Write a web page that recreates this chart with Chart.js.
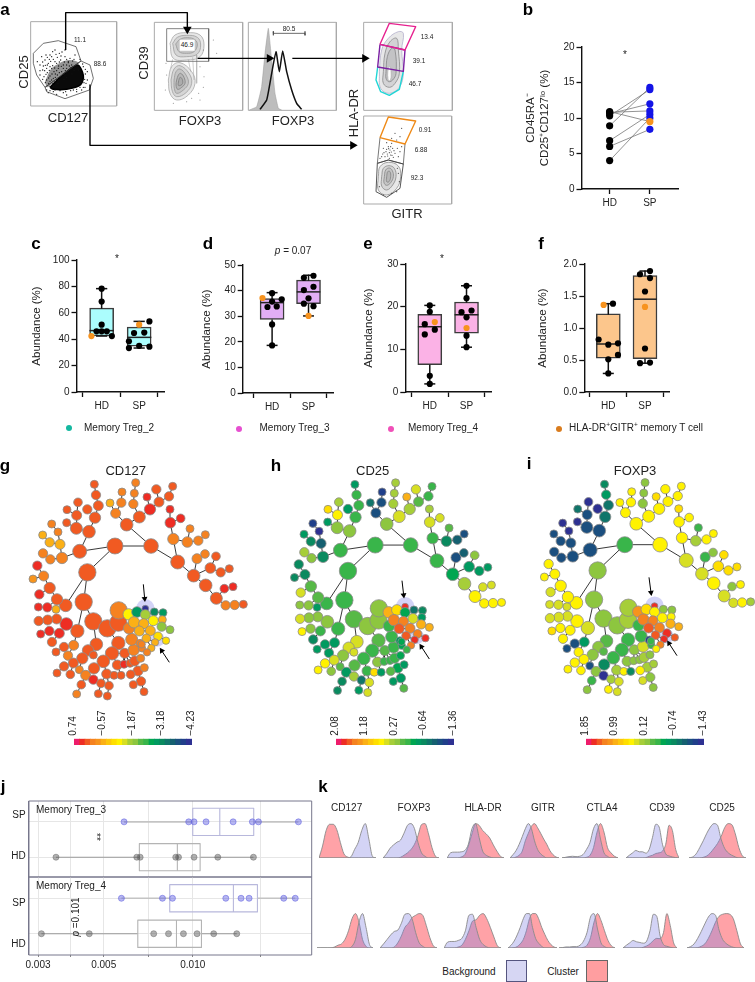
<!DOCTYPE html>
<html><head><meta charset="utf-8">
<script src="https://cdn.jsdelivr.net/npm/chart.js@4"></script>
<style>
html,body{margin:0;padding:0;background:#fff;overflow:hidden}
#root{position:relative;width:755px;height:982px;overflow:hidden;font-family:"Liberation Sans",Arial,sans-serif;color:#222}
canvas{position:absolute}
.t{position:absolute;white-space:nowrap;line-height:1;transform:translate(-50%,-50%);z-index:5}
sup{font-size:65%;line-height:0}
.sw{position:absolute;box-sizing:border-box;border:1px solid #55557f}
.dot{position:absolute;width:6px;height:6px;border-radius:50%;transform:translate(-50%,-50%)}
</style></head><body><div id="root"></div>
<script>
/* ---------- panel a : gating plots, read on a grid of 3 units per page pixel ---------- */
const flowFrames=[[92,65,350,318],[463,67,728,331],[745,67,1009,331],[1091,67,1357,331],[1091,348,1355,612]];
const gateCD25=[[100,160],[130,130],[175,122],[228,140],[243,183],[135,262],[110,225],[100,190]];
const gateCD127=[[243,183],[270,195],[280,235],[268,270],[195,296],[140,275],[135,262]];
const denseBlob=[[150,262],[180,232],[232,195],[250,226],[242,254],[200,268],[160,268]];
const midBlob=[[135,245],[155,205],[195,182],[225,182],[236,190],[175,232],[142,262]];
const cd25Dots=[[165,150],[150,165],[178,160],[195,170],[135,180],[160,178],[182,180],[205,185],[120,195],[145,190],[170,190],[190,195],[215,195],[128,210],[155,205],[175,205],[200,205],[142,218],[162,215],[185,215],[132,230],[150,228],[172,225],[120,225],[140,240],[160,235],[180,232],[146,250],[165,245],[150,200],[183,168],[138,165],[210,175],[225,165],[195,150],[125,170],[112,185],[158,155],[172,172],[130,198],[190,205],[200,195],[176,198],[166,222],[155,240],[140,205],[120,212],[148,178],[206,212],[195,225],[145,278],[170,283],[200,285],[230,275],[255,262],[262,240],[262,215],[250,200],[140,270],[160,275],[190,278],[220,270],[245,270],[258,250],
[168,163],[186,156],[142,172],[155,170],[200,178],[218,183],[128,186],[152,184],[165,185],[178,186],[193,186],[208,198],[136,196],[158,197],[184,199],[196,212],[148,211],[170,212],[178,218],[190,221],[138,223],[156,222],[128,238],[146,234],[166,232],[176,240],[150,244],[136,248],[158,252],[170,238],[205,188],[222,178],[212,204],[200,218],[186,228],[164,204],[142,195],[134,212],[150,260],[240,178],[248,192],[256,208],[254,238],[250,262],[230,268],[212,272],[180,272],[150,272],[165,270],[197,275],[240,262],[256,222],[252,248],[236,210],[228,196],[192,238],[174,250],[160,258],[200,232],[216,222],[222,212]];
const cd39Gate=[[500,86],[626,86],[626,184],[500,184]];
const cd39Contours=[
 [[510,130],[525,105],[560,98],[600,105],[612,135],[600,170],[560,180],[520,175]],
 [[518,130],[532,112],[560,106],[592,112],[602,135],[592,162],[560,170],[528,165]],
 [[527,132],[540,118],[562,113],[585,119],[592,135],[582,155],[560,160],[537,155]],
 [[505,240],[515,200],[540,188],[575,215],[585,250],[565,285],[530,300],[510,280]],
 [[513,240],[522,207],[540,197],[567,220],[575,250],[558,278],[530,290],[517,274]],
 [[522,240],[528,215],[540,207],[558,225],[565,250],[550,270],[530,280],[523,265]],
 [[530,240],[535,225],[542,220],[552,232],[555,250],[545,262],[533,268],[528,255]],
 [[536,242],[540,232],[546,236],[548,250],[542,256],[535,256]]];
const cd39Links=[[[565,178],[572,215]],[[578,172],[582,240]],[[518,178],[512,205]],[[590,165],[590,250]]];
const cd39Dots=[[610,150],[618,175],[600,200],[612,230],[596,280],[600,300],[575,295],[498,190],[500,225],[496,270],[520,310],[560,305],[640,120],[650,160],[610,262]];
const isotypeCurve=[[748,330],[770,320],[785,260],[795,160],[805,85],[815,180],[825,280],[835,325],[845,330]];
const foxp3Curve=[[780,328],[800,300],[815,220],[828,155],[838,215],[848,153],[860,215],[875,270],[890,310],[905,328]];
const bracket805=[[820,94],[820,106],[820,100],[915,100],[915,94],[915,106]];
const gateMagenta=[[1140,133],[1168,70],[1247,80],[1215,150]];
const gatePurple=[[1140,133],[1215,150],[1210,214],[1133,201]];
const gateCyan=[[1133,201],[1128,240],[1142,275],[1168,286],[1198,268],[1210,214]];
const drContours=[
 [[1138,215],[1145,150],[1165,115],[1195,95],[1210,100],[1205,150],[1210,220],[1198,262],[1168,280],[1142,265]],
 [[1150,215],[1155,160],[1170,125],[1190,115],[1195,150],[1198,220],[1185,250],[1168,262],[1150,250]],
 [[1158,215],[1162,170],[1175,145],[1185,150],[1188,220],[1178,240],[1166,245],[1158,235]]];
const drHole=[[1163,226],[1165,205],[1170,200],[1173,215],[1172,238],[1166,243]];
const gateOrange=[[1140,413],[1165,351],[1247,363],[1215,432]];
const gateMid=[[1140,413],[1132,490],[1165,480],[1210,492],[1215,432]];
const gateLow=[[1132,490],[1165,480],[1210,492],[1200,565],[1160,592],[1128,575]];
const gitrContours=[
 [[1135,530],[1140,500],[1165,487],[1195,498],[1202,530],[1190,565],[1160,585],[1135,570]],
 [[1145,530],[1150,505],[1167,497],[1183,505],[1188,530],[1178,555],[1160,570],[1145,558]],
 [[1153,530],[1157,510],[1168,504],[1177,512],[1180,530],[1172,548],[1160,556],[1152,548]],
 [[1160,530],[1163,515],[1170,515],[1172,530],[1167,545],[1160,545]]];
const gitrDots=[[1165,440],[1170,450],[1158,455],[1178,445],[1162,462],[1172,465],[1150,445],[1185,460],[1155,470],[1168,475],[1180,472],[1148,462],[1192,445],[1175,430],[1160,428],[1200,410],[1185,400],[1175,415],[1205,385],[1190,420],[1140,475],[1195,470],[1166,446],[1174,456],[1160,448],[1168,458],[1176,466],[1163,468],[1152,458],[1182,452],[1172,440],[1145,470],[1200,455],[1205,440],[1195,520],[1198,545],[1190,575],[1175,580],[1150,585],[1138,560],[1192,505]];
const arrowPaths=[[[197,150],[197,38],[562,38],[562,90]],[[593,175],[815,175]],[[877,175],[1095,175]],[[270,255],[270,436],[1060,436]]];
const arrowHeads=[[562,88,180],[808,175,90],[1094,175,90],[1058,436,90]];

/* ---------- panels b-f ---------- */
const categories=['HD','SP'];
const bHD=[4,6,6.8,8.9,10.3,10.6,10.8,10.9];
const bSP=[10,8.4,10.5,14.3,14,12,11,9.5];
const bOrangeIndex=7;

const cHD=[78.3,68.5,51,46,46,46,42.4,42.4];
const cHDoff=[0,0,0,-15,0,15,-30,30];
const cSP=[53.5,51,44.7,45,38.4,33.3,35,34.3];
const cSPoff=[30,0,-15,15,-30,-30,0,30];
const cHDbox=[42.4,42.4,46.5,63.6,78.3];
const cSPbox=[33.3,34.8,41.4,49.2,53.5];
const cHDorange=6,cSPorange=1;

const dHD=[39,37.1,36.6,35.7,33.6,33.8,26.8,18.6];
const dHDoff=[0,-29,29,0,-14,14,0,0];
const dSP=[45.8,45,40.2,41.5,37,34.9,33.9,30.1];
const dSPoff=[15,-14,-14,15,0,-14,15,0];
const dHDbox=[18.6,28.7,35.3,36.9,39.2];
const dSPbox=[30.1,34.9,39.5,44.1,46];
const dHDorange=1,dSPorange=7;

const eHD=[20.3,18.8,15.9,16.4,14.6,13.5,3.8,1.9];
const eHDoff=[0,0,-15,15,15,-15,0,0];
const eSP=[24.9,22,18.7,19.1,17.5,15,13.2,10.5];
const eSPoff=[0,0,-15,15,0,0,0,0];
const eHDbox=[1.9,6.4,15.3,18.2,20.3];
const eSPbox=[10.5,13.8,18.1,21.1,24.9];
const eHDorange=3,eSPorange=5;

const fHD=[1.38,1.36,0.82,0.74,0.76,0.58,0.51,0.29];
const fHDoff=[14,-14,-29,0,29,29,0,0];
const fSP=[1.89,1.84,1.78,1.57,1.33,0.68,0.45,0.46];
const fSPoff=[15,-15,15,0,0,0,-15,15];
const fHDbox=[0.29,0.53,0.75,1.22,1.38];
const fSPbox=[0.45,0.52,1.45,1.82,1.89];
const fHDorange=1,fSPorange=4;

/* ---------- panels g-i : minimum spanning tree, one line per branch ---------- */
const treeX=[345,453,262,251,197,280,232,533,380,239,
347,418,330,364,366,400,403,407,450,441,477,469,507,518,
520,511,510,542,562,595,570,616,
581,617,631,591,615,648,662,688,649,673,699,677,704,730,
267,186,229,285,295,288,283,230,200,201,234,262,
180,151,129,149,128,174,155,
171,149,131,112,99,118,142,115,168,
199,170,143,116,178,148,122,156,
289,264,221,192,168,204,247,280,220,192,171,211,238,
322,355,356,355,336,310,282,257,280,244,230,320,303,327,295,322,342,363,352,374,372,390,
404,422,401,414,392,433,423,400,432,395,387,420,426,
386,411,436,436,463,489,402,431,460,487,485,510,418,451,439,474,465,498,454,441,425];
const treeY=[348,348,427,516,526,574,603,396,284,364,
250,261,219,218,186,222,190,158,238,201,216,178,199,169,
327,278,238,265,336,332,296,314,
437,466,414,386,372,379,427,416,505,476,470,526,525,523,
305,384,295,263,227,195,163,256,278,239,217,238,
343,388,370,337,315,306,282,
508,474,438,407,447,493,532,531,538,
582,567,570,573,610,603,612,636,
643,661,646,651,666,677,685,675,699,709,729,733,719,
595,578,541,639,670,694,715,736,749,764,792,732,760,767,791,798,736,736,705,670,703,700,
693,685,660,723,733,713,754,764,785,628,595,640,655,
553,546,536,554,546,548,577,581,572,569,590,599,603,602,625,619,637,632,654,667,643];
const treeSize=[22,20,24,24,17,24,18,19,17,19,
13,16,10,12,10,12,10,10,15,10,13,12,12,10,
15,14,10,11,14,12,10,10,
17,17,14,13,11,11,12,10,16,11,10,12,12,10,
17,15,16,15,13,12,10,13,10,10,11,12,
13,12,12,12,10,10,10,
15,15,13,12,10,12,12,10,10,
17,13,13,12,13,12,10,12,
17,15,13,12,10,12,15,10,13,12,10,11,10,
24,24,24,18,18,17,15,13,12,11,10,13,11,11,10,10,10,10,13,13,10,10,
13,10,15,13,11,10,12,10,10,16,15,10,9,
15,14,8,13,10,10,15,13,13,10,12,10,13,13,11,11,9,9,9,9,9];
const treeParent=[-1,0,0,2,2,3,3,1,1,0,
8,8,10,10,13,11,15,16,11,18,18,20,20,22,
7,24,25,25,24,28,28,29,
7,32,32,32,35,34,34,38,33,40,41,40,43,44,
9,9,46,46,49,50,51,48,48,53,53,49,
47,47,59,58,61,58,63,
4,65,66,67,67,66,65,71,4,
6,74,75,76,74,78,79,78,
5,82,6,84,85,84,83,83,88,90,91,90,88,
5,95,96,95,98,99,100,101,102,102,104,100,106,106,107,108,106,113,99,99,114,114,
114,117,126,117,120,120,120,123,123,127,96,126,128,
97,130,131,131,133,134,127,136,137,138,139,140,136,142,142,143,144,145,144,148,126];
const levelCD127=[1,1,1,1,1,1,1,1,1,1,
2,1,3,2,2,2,2,2,0,0,1,1,1,1,
2,0,0,0,2,2,2,2,
1,1,1,2,2,1,1,1,1,0,0,2,2,1,
1,2,.5,.5,.5,1,1,.5,1,.5,.5,1,
3,2,2,3,3,2,1.5,
.5,1,2,0,2.5,0,0,0,3,
0,1,1,1,0,0,0,1,
1,1,2,1,1,2,1,1,1,1,1,1,1.5,
1,1,2,1,1,1,1,2,0,1,2,1,1,1,1,1,1,1,1,1,0,.5,
1,1.5,1.5,1,1,1.5,1,1,1,2,1.5,1.5,1.5,
4,8,11,5.5,8.5,8,3,3,4,3,6,6,3,3,3,3.5,3,3.5,3,2,1.5];
const levelCD25=[7,7,7,7,7,6.5,7,7,6,7,
10,5,9,10,10.5,5.5,5.5,5.5,5.5,3,6.5,5,7,7,
7,5,5.5,5,8.5,9.5,6.5,10,
7.5,5.5,8,10,9.5,6,8,8,4,5,4.5,4,4,4,
6,8.5,6,7,7,7,8,4,8,3.8,5.5,8,
9.5,6,5.5,8.5,8,11,10.5,
6.5,6.5,8.5,8.5,8.5,4.5,6,6,8,
6,6,6,5,7,6,4,8.5,
5,5,8,8,8,8,6,4.8,5,4,4,6,6.5,
6,6,6,6.5,7,7,6.5,8,5.5,8.5,8.5,7,9,5,8,5,3.5,8,6,6.5,7,7,
7,7.5,7,7.5,6.5,8,8,8,6.5,7,7,8,7.5,
3,3.5,0,7.5,9,8.5,2,2,5,8,3,3,1,1.5,1,2,0,0,2,7,7.5];
const levelFOXP3=[7,4,6,6,4,6,5,5,4,10,
4,4,4,4,4,6,6,6,4,3.5,4,4,4,4,
4,4,3.5,4,5.5,4,7,4,
5,4,3.5,7,6,3.5,3.5,3.5,5,6,4,5,4,5.5,
10,10,10,9,9,8,8.5,10,11,9,11,11,
10,10,10,10,10,11,11,
4,4,4,4,4,5,5,5,5,
4,5,5,5,4,4,3.5,4,
6.5,6,8,10,10,4,6,6.5,4,4,4,4,10,
6,5.5,5.5,7,7,7,8.5,6,11,7,6,5.5,5.5,5,4,5,4,8.5,6,6,6,6,
5.5,6,5,5.5,4,5.5,6,5,6,7,7,10.5,7,
2.5,3.5,0,4,6,6,1.5,1.5,4,4,3,3,1,2,1,0,0,1,2,4,7];
const treeHighlights=[[436,534,27],[472,628,22]];
const gArrows=[[[430,463],[434,506]],[[508,697],[485,662]]];
const hArrows=[[[456,452],[461,495]],[[538,687],[514,650]]];
const iArrows=[[[462,442],[468,488]],[[546,677],[522,640]]];
const palette=['#ee1c6b','#ee2d24','#f15a22','#f58220','#f7941d','#fbb016','#fdc70c','#ffde00','#fff200','#d7df23','#a6ce39','#8dc63f','#57b947','#39b54a','#00a651','#009a60','#0a8a5f','#10756a','#156070','#1b4f7f','#203f8a','#2e3192'];
const levelToPalette=[1,2,3,5,8,9,11,13,15,17,19,21];
const gBarLabels=['0.74','\u22120.57','\u22121.87','\u22123.18','\u22124.23'];
const hBarLabels=['2.08','1.18','0.27','\u22120.64','\u22121.36'];
const iBarLabels=['1.85','0.99','0.12','\u22120.74','\u22121.43'];
const barTickPositions=[2.0,7.53,13.1,18.6,24.1];

/* ---------- panel j ---------- */
const jT3SP=[.00586,.00969,.0101,.01109,.01369,.0159,.01667,.02275];
const jT3HD=[.00345,.00647,.00664,.00876,.00895,.0101,.01215,.01603];
const jT4SP=[.00574,.0079,.00854,.01293,.01456,.0155,.0203,.0222];
const jT4HD=[.00308,.00447,.00738,.00828,.0093,.01034,.01177,.01408];
const jT3SPbox=[.0100,.01234,.01607];
const jT3HDbox=[.0066,.00887,.01059];
const jT4SPbox=[.00836,.01372,.01654];
const jT4HDbox=[.00652,.00881,.0107];
const jGrid=[.003,.00387,.005,.00707,.01,.0169];
const jLabels={0.003:'0.003',0.005:'0.005',0.01:'0.010'};

/* ---------- panel k : density heights, 17 even samples per cell ---------- */
const kMarkers=['CD127','FOXP3','HLA-DR','GITR','CTLA4','CD39','CD25'];
const k1Spans=[[27,197],[219,388],[410,580],[600,748],[755,922],[947,1107],[1138,1308]];
const k2Spans=[[20,188],[210,380],[402,572],[594,740],[747,914],[939,1100],[1130,1300]];
const k1Background=[
 [0,0,0,0,0,0,0,0,0,4,25,45,80,100,55,5,0],
 [0,12,28,38,46,52,72,95,100,85,45,15,5,0,0,0,0],
 [0,15,17,17,18,22,40,85,100,60,20,8,3,0,0,0,0],
 [0,10,22,40,62,85,100,85,50,25,12,5,0,0,0,0,0],
 [0,2,4,5,4,5,10,25,45,85,100,55,15,5,0,0,0],
 [0,8,15,22,18,18,14,25,60,98,90,40,12,6,3,1,0],
 [0,3,12,30,50,72,90,100,95,55,28,15,8,3,0,0,0]];
const k1Cluster=[
 [0,35,80,98,98,82,45,12,3,0,0,0,0,0,0,0,0],
 [0,0,0,0,0,2,8,15,25,40,65,97,100,70,30,5,0],
 [0,0,0,0,3,10,35,70,100,95,80,70,58,38,20,5,0],
 [0,0,3,8,20,50,72,92,100,88,72,55,40,22,10,3,0],
 [0,0,0,0,0,0,0,2,8,30,75,100,75,30,15,5,0],
 [0,0,0,0,0,0,1,5,8,13,15,20,40,95,80,25,0],
 [0,0,0,0,2,6,15,28,42,62,88,100,97,70,30,6,0]];
const k2Background=[
 [0,0,0,0,0,0,0,0,0,0,5,25,75,100,60,10,0],
 [0,12,25,38,48,52,72,98,100,85,45,15,5,0,0,0,0],
 [0,17,19,19,22,28,50,95,98,60,25,10,3,0,0,0,0],
 [0,8,20,38,60,85,100,100,60,28,14,5,0,0,0,0,0],
 [0,1,3,3,4,4,8,20,45,90,100,55,15,4,0,0,0],
 [0,8,15,22,18,16,14,20,50,98,92,35,10,5,2,0,0],
 [0,4,12,28,48,70,90,100,95,52,25,13,6,2,0,0,0]];
const k2Cluster=[
 [0,0,0,0,0,3,8,12,25,50,85,100,75,25,5,0,0],
 [0,0,0,0,3,15,35,60,72,88,95,100,95,65,30,6,0],
 [0,0,0,0,3,8,25,50,78,82,95,100,85,60,32,6,0],
 [0,0,1,4,12,25,50,85,100,100,85,60,40,22,10,3,0],
 [0,0,0,0,0,0,0,2,8,30,75,100,80,50,22,6,0],
 [0,0,0,0,0,0,2,6,12,22,28,27,45,100,65,15,0],
 [0,0,0,1,5,12,28,50,75,92,98,100,98,85,50,12,0]];

/* ---------- helpers ---------- */
const FONT='"Liberation Sans",Arial,sans-serif';
Chart.defaults.font.family=FONT;
Chart.defaults.animation=false;
Chart.defaults.responsive=false;
Chart.defaults.maintainAspectRatio=false;
Chart.defaults.devicePixelRatio=1;
Chart.defaults.events=[];
Chart.defaults.layout.autoPadding=false;
Chart.defaults.plugins.legend.display=false;
Chart.defaults.plugins.tooltip.enabled=false;
Chart.defaults.color='#222';
const root=document.getElementById('root');
function canvas(x,y,w,h){const c=document.createElement('canvas');c.width=Math.round(w);c.height=Math.round(h);c.style.left=x+'px';c.style.top=y+'px';c.style.width=Math.round(w)+'px';c.style.height=Math.round(h)+'px';root.appendChild(c);return c;}
function txt(html,x,y,size,o={}){const d=document.createElement('div');d.className='t';d.innerHTML=html;d.style.left=x+'px';d.style.top=y+'px';d.style.fontSize=size+'px';
 if(o.rot)d.style.transform='translate(-50%,-50%) rotate('+o.rot+'deg)';if(o.bold)d.style.fontWeight='bold';if(o.bg)d.style.background=o.bg;if(o.color)d.style.color=o.color;if(o.pad)d.style.padding=o.pad;root.appendChild(d);return d;}
const xy=a=>a.map(p=>({x:p[0],y:p[1]}));
function path(pts,color,width,o={}){const data=xy(o.closed?pts.concat([pts[0]]):pts);
 return {type:'scatter',showLine:true,data,borderColor:color,borderWidth:width,pointRadius:0,tension:o.tension||0,fill:o.fill?'shape':false,backgroundColor:o.fill||'transparent',clip:false,borderJoinStyle:'round'};}
function dots(pts,color,r,o={}){return {type:'scatter',data:xy(pts),pointRadius:r,pointBackgroundColor:color,pointBorderColor:o.border||color,pointBorderWidth:o.bw||0,clip:false,pointStyle:o.style||'circle',pointRotation:o.rot||0};}

/* ---------- draw panel a ---------- */
(function(){
 const ds=[];
 arrowHeads.forEach(h=>ds.push(dots([[h[0],h[1]]],'#000',5,{style:'triangle',rot:h[2]})));
 arrowPaths.forEach(p=>ds.push(path(p,'#000',1.4)));
 [[gateMagenta,'#e6218f'],[gatePurple,'#7a1fa2'],[gateCyan,'#1fd6d6'],[gateOrange,'#ef8a17']].forEach(g=>{
   const closed=g[0]!==gateCyan; ds.push(path(g[0],g[1],1.4,{closed}));});
 ds.push(path(gateLow,'#444',0.9,{closed:true}));
 ds.push(path(gateMid,'#555',0.8));
 ds.push(path(cd39Gate,'#666',0.8,{closed:true}));
 ds.push(path(gateCD25,'#333',0.7,{closed:true}));
 ds.push(path(gateCD127,'#333',0.7,{closed:true}));
 ds.push(dots(cd25Dots,'#111',0.65));
 ds.push(path(denseBlob,'#000',1.5,{closed:true,fill:'#0a0a0a',tension:.3}));
 ds.push(path(midBlob,'rgba(0,0,0,0)',0,{closed:true,fill:'rgba(0,0,0,.42)',tension:.3}));
 ds.push(dots(gitrDots,'#444',0.6));
 ds.push(dots(cd39Dots,'#777',0.5));
 cd39Contours.forEach((c,i)=>ds.push(path(c,i>5?'#8a8a8a':'#a8a8a8',0.8,{closed:true,tension:.4,fill:'rgba(110,110,110,.16)'})));
 cd39Links.forEach(c=>ds.push(path(c,'#b8b8b8',0.7)));
 ds.push(path(drHole,'#aaa',0.6,{closed:true,tension:.4,fill:'#fff'}));
 drContours.forEach((c,i)=>ds.push(path(c,i==0?'#b4b0cc':'#8e8e8e',0.8,{closed:true,tension:.4,fill:'rgba(110,110,120,.17)'})));
 gitrContours.forEach(c=>ds.push(path(c,'#8e8e8e',0.8,{closed:true,tension:.4,fill:'rgba(110,110,110,.16)'})));
 ds.push(path(foxp3Curve,'#111',1.5,{tension:.15}));
 ds.push(path(bracket805,'#444',0.8));
 ds.push(path(isotypeCurve,'#999',0.5,{fill:'#bdbdbd',tension:.1}));
 flowFrames.forEach(f=>ds.push(path([[f[0],f[1]],[f[2],f[1]],[f[2],f[3]],[f[0],f[3]]],'#a9a9a9',1,{closed:true})));
 new Chart(canvas(0,0,470,225),{type:'scatter',data:{datasets:ds},options:{scales:{x:{display:false,min:0,max:1410},y:{display:false,min:0,max:675,reverse:true}}}});
})();

/* ---------- shared axis styling for panels b-f ---------- */
function axes(cfg){const u=cfg.spX-cfg.hdX;
 const left=cfg.titleX-8;
 const grid={drawOnChartArea:false,tickLength:5,tickWidth:1.3,tickColor:'#111'};
 const border={display:true,width:1.4,color:'#111'};
 return {layout:{padding:{top:10,right:12,left:0,bottom:0}},scales:{
  x:{type:'linear',offset:false,min:1-(cfg.hdX-cfg.axisX)/u,max:2+(cfg.right-cfg.spX)/u,grid,border,
     afterBuildTicks:s=>{s.ticks=[{value:1},{value:2}];},
     ticks:{autoSkip:false,maxRotation:0,padding:3,font:{size:10},callback:v=>categories[v-1]},
     afterFit:s=>{s.height=26;}},
  y:{type:'linear',min:0,max:cfg.max,grid,border,
     title:{display:true,text:cfg.title,font:{size:cfg.titleSize||11.5},padding:0,color:'#222'},
     ticks:{stepSize:cfg.step,padding:2,font:{size:10},callback:v=>cfg.fmt?v.toFixed(cfg.fmt):String(v)},
     afterFit:s=>{s.width=cfg.axisX-left;}}}};
}
function place(cfg){const left=cfg.titleX-8,top=cfg.yTop-10;return canvas(left,top,cfg.right+12-left,cfg.y0+26-top);}

/* ---------- panel b ---------- */
(function(){
 const cfg={titleX:531.5,axisX:581,right:677,hdX:609,spX:649,yTop:46.7,y0:189,max:20,step:5,title:['CD45RA\u207B','CD25\u207ACD127\u02E1\u1D52 (%)'],titleSize:11.5};
 const ds=[];
 ds.push({type:'scatter',data:[{x:2,y:bSP[bOrangeIndex]}],pointRadius:3.6,pointBackgroundColor:'#f7931e',pointBorderWidth:0});
 ds.push({type:'scatter',data:bSP.map(v=>({x:2,y:v})).filter((p,i)=>i!==bOrangeIndex),pointRadius:3.6,pointBackgroundColor:'#1414e6',pointBorderWidth:0});
 ds.push({type:'scatter',data:bHD.map(v=>({x:1,y:v})),pointRadius:3.6,pointBackgroundColor:'#000',pointBorderWidth:0});
 bHD.forEach((v,i)=>ds.push(path([[1,v],[2,bSP[i]]],'#777',0.8)));
 const opt=axes(cfg);
 new Chart(place(cfg),{type:'scatter',data:{datasets:ds},options:opt});
})();

/* ---------- panels c-f ---------- */
function boxPanel(cfg){
 const ds=[];const U=110;
 [[1,cfg.hd,cfg.hdOff,cfg.hdOrange],[2,cfg.sp,cfg.spOff,cfg.spOrange]].forEach(g=>{
  const pts=g[1].map((v,i)=>[g[0]+g[2][i]/U,v]);
  ds.push(dots([pts[g[3]]],'#f7931e',3.1));
  ds.push(dots(pts.filter((p,i)=>i!==g[3]),'#000',3.1));});
 [[1,cfg.hdBox],[2,cfg.spBox]].forEach(g=>{const [lo,q1,m,q3,hi]=g[1],c=g[0],w=0.325,cap=0.15;
  ds.push(path([[c-w,m],[c+w,m]],'#222',1.5));
  ds.push(path([[c,hi],[c,q3]],'#111',1.5));
  ds.push(path([[c,lo],[c,q1]],'#111',1.5));
  ds.push(path([[c-cap,hi],[c+cap,hi]],'#111',1.5));
  ds.push(path([[c-cap,lo],[c+cap,lo]],'#111',1.5));
  ds.push({type:'bar',grouped:false,data:[{x:c,y:[q1,q3]}],backgroundColor:cfg.fill,borderColor:'#3c3c3c',borderWidth:1.5,borderSkipped:false,barThickness:24,order:1});
 });
 new Chart(place(cfg),{type:'scatter',data:{datasets:ds},options:axes(cfg)});
}
const abundance='Abundance (%)';
boxPanel({titleX:37.5,axisX:76,right:163,hdX:101,spX:138.3,yTop:259.7,y0:391.7,max:100,step:20,title:abundance,fill:'#abfdfd',hd:cHD,hdOff:cHDoff,sp:cSP,spOff:cSPoff,hdBox:cHDbox,spBox:cSPbox,hdOrange:cHDorange,spOrange:cSPorange});
boxPanel({titleX:208,axisX:242.7,right:332.7,hdX:272,spX:308.3,yTop:265,y0:392.7,max:50,step:10,title:abundance,fill:'#e2aef5',hd:dHD,hdOff:dHDoff,sp:dSP,spOff:dSPoff,hdBox:dHDbox,spBox:dSPbox,hdOrange:dHDorange,spOrange:dSPorange});
boxPanel({titleX:370,axisX:405.3,right:490.7,hdX:429.7,spX:466.3,yTop:264,y0:392.3,max:30,step:10,title:abundance,fill:'#fbb2e6',hd:eHD,hdOff:eHDoff,sp:eSP,spOff:eSPoff,hdBox:eHDbox,spBox:eSPbox,hdOrange:eHDorange,spOrange:eSPorange});
boxPanel({titleX:544,axisX:584.3,right:669,hdX:608.3,spX:645,yTop:264.3,y0:392,max:2,step:.5,fmt:1,title:abundance,fill:'#fcc68c',hd:fHD,hdOff:fHDoff,sp:fSP,spOff:fSPoff,hdBox:fHDbox,spBox:fSPbox,hdOrange:fHDorange,spOrange:fSPorange});

/* ---------- panels g-i ---------- */
function levelColor(l){const a=Math.floor(l),b=Math.ceil(l);return palette[Math.round(levelToPalette[a]+(l-a)*(levelToPalette[b]-levelToPalette[a]))];}
function tree(levels,x,y,w,h,arrows,ax,ay){
 const edges=[];
 treeParent.forEach((p,i)=>{if(p>=0)edges.push({x:treeX[p],y:treeY[p]},{x:treeX[i],y:treeY[i]},{x:null,y:null});});
 const nodes=treeX.map((v,i)=>({x:v,y:treeY[i]}));
 new Chart(canvas(x,y,w,h),{type:'scatter',data:{datasets:[
  {data:nodes,pointRadius:treeSize.map(r=>(r+2)/3),pointBackgroundColor:levels.map(levelColor),pointBorderColor:'#8c8c8c',pointBorderWidth:0.8,clip:false},
  {data:edges,showLine:true,spanGaps:false,borderColor:'#222',borderWidth:0.9,pointRadius:0,clip:false},
  {data:xy(treeHighlights.map(p=>[p[0],p[1]])),pointRadius:treeHighlights.map(p=>p[2]/3),pointBackgroundColor:'rgba(150,150,235,.42)',pointBorderWidth:0,clip:false}
 ]},options:{scales:{x:{display:false,min:0,max:780},y:{display:false,min:0,max:900,reverse:true}}}});
 const ds=[];
 arrows.forEach(a=>{ds.push(path(a,'#000',1));
   const dx=a[1][0]-a[0][0],dy=a[1][1]-a[0][1];
   ds.push(dots([a[1]],'#000',3.4,{style:'triangle',rot:Math.atan2(dx,-dy)*180/Math.PI}));});
 new Chart(canvas(ax,ay,260,300),{type:'scatter',data:{datasets:ds},options:{scales:{x:{display:false,min:0,max:780},y:{display:false,min:0,max:900,reverse:true}}}});
}
tree(levelCD127,0,430,260,300,gArrows,0,430);
tree(levelCD25,262,431,255.5,295,hArrows,250,430);
tree(levelFOXP3,512.3,431.3,254.8,294,iArrows,495,430);

function colorBar(labels,barLeft){
 const step=117/22,L=barLeft-4*step;
 new Chart(canvas(L,695,30*step,50.2),{type:'bar',data:{datasets:[{data:palette.map((c,i)=>({x:i+.5,y:1})),backgroundColor:palette,borderWidth:0,barPercentage:1,categoryPercentage:1}]},
 options:{scales:{
  x:{type:'linear',position:'top',min:-4,max:26,offset:false,grid:{display:false,drawTicks:false,tickLength:0},border:{display:false},
     afterBuildTicks:s=>{s.ticks=barTickPositions.map(v=>({value:v}));},
     ticks:{autoSkip:false,minRotation:90,maxRotation:90,padding:3,font:{size:10},callback:(v,i)=>labels[i]},
     afterFit:s=>{s.height=43.7;}},
  y:{display:false,min:0,max:1}}}});
}
colorBar(gBarLabels,74.3);colorBar(hBarLabels,336.5);colorBar(iBarLabels,586.2);

/* ---------- panel j ---------- */
function facet(cfg){
 const ds=[];
 const rows=[[2,cfg.sp,cfg.spBox,'rgba(80,80,225,.42)','#6a6ae0','#c4c4c4','#b8b8dc',1.6],[1,cfg.hd,cfg.hdBox,'rgba(70,70,70,.42)','#777','#9a9a9a','#b4b4b4',1.1]];
 rows.forEach(r=>{const [y,v,b,fill,edge]=r;
  ds.push({type:'scatter',data:v.map(q=>({x:q,y})),pointRadius:3,pointBackgroundColor:fill,pointBorderColor:edge,pointBorderWidth:.6,clip:false});});
 rows.forEach(r=>{const [y,v,b,,,whisk,boxc,ww]=r,h=.385;
  ds.push(path([[b[1],y-h],[b[1],y+h]],boxc,1.1));
  ds.push(path([[b[0],y-h],[b[2],y-h],[b[2],y+h],[b[0],y+h]],boxc,1.1,{closed:true}));
  ds.push(path([[v[0],y],[b[0],y]],whisk,ww));
  ds.push(path([[b[2],y],[v[v.length-1],y]],whisk,ww));});
 ds.push(path([[cfg.xmin,cfg.ymin],[cfg.xmax,cfg.ymin],[cfg.xmax,cfg.ymax],[cfg.xmin,cfg.ymax]],'#77778c',1,{closed:true}));
 const H=cfg.bottom-cfg.top;
 new Chart(canvas(0,cfg.top-10,325,H+10+cfg.below),{type:'scatter',data:{datasets:ds},options:{
  layout:{padding:{top:10,right:325-cfg.xR,left:0,bottom:0}},
  scales:{
   x:{type:'logarithmic',min:cfg.xmin,max:cfg.xmax,
      afterBuildTicks:s=>{s.ticks=jGrid.map(v=>({value:v}));},
      grid:{color:'#e6e6e6',lineWidth:1,drawTicks:cfg.showX,tickLength:2,tickColor:'#888'},border:{display:false},
      ticks:{display:cfg.showX,autoSkip:false,maxRotation:0,padding:2,font:{size:10},callback:v=>jLabels[v]||''},
      afterFit:s=>{s.height=cfg.below;}},
   y:{type:'linear',min:cfg.ymin,max:cfg.ymax,
      afterBuildTicks:s=>{s.ticks=[1,2,cfg.hdLabelAt,cfg.spLabelAt].map(v=>({value:v}));},
      grid:{color:c=>(c.tick&&(c.tick.value===1||c.tick.value===2))?'#e6e6e6':'rgba(0,0,0,0)',drawTicks:false},border:{display:false},
      ticks:{autoSkip:false,padding:3,font:{size:10},callback:v=>v===cfg.hdLabelAt?categories[0]:v===cfg.spLabelAt?categories[1]:''},
      afterFit:s=>{s.width=cfg.xL;}}}}});
}
const jX={xmin:.00279,xmax:.02523,xL:28.7,xR:311.7};
facet({...jX,top:800.7,bottom:877.3,below:8.3,showX:false,ymin:.44,ymax:2.59,hdLabelAt:1.02,spLabelAt:2.19,sp:jT3SP,hd:jT3HD,spBox:jT3SPbox,hdBox:jT3HDbox});
facet({...jX,top:877.3,bottom:955.7,below:19,showX:true,ymin:.4,ymax:2.6,hdLabelAt:.71,spLabelAt:1.85,sp:jT4SP,hd:jT4HD,spBox:jT4SPbox,hdBox:jT4HDbox});

/* ---------- panel k ---------- */
function density(span,base,bg,cl){
 const x0=310+span[0]/3,w=(span[1]-span[0])/3;
 const toPts=a=>a.map((v,i)=>({x:i,y:v}));
 const common={showLine:true,pointRadius:0,borderColor:'#8a8a8a',borderWidth:.9,fill:'origin',cubicInterpolationMode:'monotone',clip:false};
 new Chart(canvas(x0,base-36,w,36.5),{type:'scatter',data:{datasets:[
  {...common,data:[{x:0,y:0},{x:16,y:0}],fill:false,borderColor:'#8a8a8a',borderWidth:1},
  {...common,data:toPts(bg),backgroundColor:'rgba(125,125,225,.34)'},
  {...common,data:toPts(cl),backgroundColor:'rgba(255,85,95,.55)'}
 ]},options:{scales:{x:{display:false,min:0,max:16},y:{display:false,min:0,max:107.5}}}});
}
kMarkers.forEach((m,i)=>{density(k1Spans[i],857.3,k1Background[i],k1Cluster[i]);density(k2Spans[i],946.7,k2Background[i],k2Cluster[i]);});

/* ---------- text ---------- */
[['a',5,9],['b',528,9],['c',36,243],['d',208,243],['e',368,243],['f',541,243],['g',5,465],['h',276,465],['i',529,463],['j',3,786],['k',323,786]].forEach(l=>txt(l[0],l[1],l[2],17,{bold:true,color:'#000'}));
txt('CD25',23,72,13,{rot:-90});txt('CD127',68,117,13);txt('CD39',143,63,13,{rot:-90});txt('FOXP3',200,120,13);txt('FOXP3',293,120,13);txt('HLA-DR',353,113,13,{rot:-90});txt('GITR',407,213,13);
[['11.1',80,40],['88.6',100,64],['80.5',289,29],['13.4',427,37],['39.1',419,61],['46.7',415,84],['0.91',425,130],['6.88',421,150],['92.3',417,178]].forEach(n=>txt(n[0],n[1],n[2],6.5));
txt('46.9',187,45,6.5,{bg:'#fff',pad:'2px 1px'});
txt('*',625,55,10);txt('*',117,259,10);txt('*',442,259,10);txt('<i>p</i> = 0.07',293,251,10);
txt('Memory Treg_2',119,428,10);txt('Memory Treg_3',294.5,428,10);txt('Memory Treg_4',443,428,10);txt('HLA-DR<sup>+</sup>GITR<sup>+</sup> memory T cell',636,428,10);
[[69,428,'#14b8a0'],[239,429,'#e64fd0'],[391,429,'#f050b8'],[559,429,'#d97c1e']].forEach(d=>{const e=document.createElement('div');e.className='dot';e.style.left=d[0]+'px';e.style.top=d[1]+'px';e.style.background=d[2];root.appendChild(e);});
txt('CD127',125.7,470,13);txt('CD25',372.7,470,13);txt('FOXP3',635,470,13);
txt('Memory Treg_3',71,810,10);txt('Memory Treg_4',71,886,10);
txt('**',96,837,10,{rot:90});txt('<i>p</i> =0.101',76,917,10,{rot:-90});
[346.7,414,483,543,602,662,722].forEach((x,i)=>txt(kMarkers[i],x,808,10));
txt('Background',469,972,10);txt('Cluster',563,972,10);
[[505.7,'#d6d6f3','#55557f'],[586,'#ff9ea0','#666']].forEach(s=>{const e=document.createElement('div');e.className='sw';e.style.cssText+=`left:${s[0]}px;top:960px;width:21.5px;height:21.5px;background:${s[1]};border-color:${s[2]}`;root.appendChild(e);});
</script></body></html>
